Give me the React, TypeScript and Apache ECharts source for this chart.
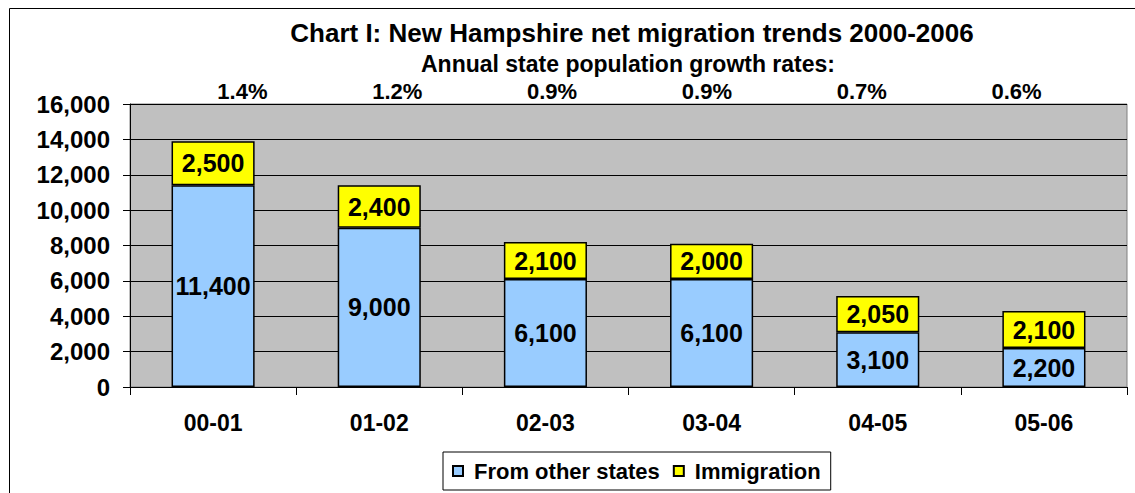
import React, { useEffect, useRef } from 'react';
import * as echarts from 'echarts';

const categories = ['00-01', '01-02', '02-03', '03-04', '04-05', '05-06'];
const fromOtherStates = [11400, 9000, 6100, 6100, 3100, 2200];
const immigration = [2500, 2400, 2100, 2000, 2050, 2100];
const growthRates = ['1.4%', '1.2%', '0.9%', '0.9%', '0.7%', '0.6%'];
const seriesNames = ['From other states', 'Immigration'];
const titleText = 'Chart I: New Hampshire net migration trends 2000-2006';
const subtitleText = 'Annual state population growth rates:';
const yMin = 0;
const yMax = 16000;
const yStep = 2000;

const FONT = '"Liberation Sans", Arial, Helvetica, sans-serif';
const fmt = (v: number) => v.toLocaleString('en-US');

export default function App() {
  const ref = useRef<HTMLDivElement>(null);
  useEffect(() => {
    if (!ref.current) return;
    const chart = echarts.init(ref.current, null, { renderer: 'svg' });
    const barLabel = {
      show: true,
      position: 'inside',
      color: '#000',
      fontSize: 25,
      fontWeight: 'bold',
      fontFamily: FONT,
      formatter: (p: any) => fmt(p.value),
    };
    chart.setOption({
      animation: false,
      backgroundColor: '#fff',
      textStyle: { fontFamily: FONT, color: '#000' },
      graphic: [
        {
          type: 'rect',
          z: -10,
          shape: { x: 9.5, y: 8.5, width: 1130, height: 500 },
          style: { fill: 'none', stroke: '#000', lineWidth: 1 },
        },
        {
          type: 'text',
          x: 632,
          y: 33,
          style: {
            text: titleText,
            fontSize: 26,
            fontWeight: 'bold',
            fontFamily: FONT,
            fill: '#000',
            textAlign: 'center',
            textVerticalAlign: 'middle',
          },
        },
        {
          type: 'text',
          x: 628,
          y: 64,
          style: {
            text: subtitleText,
            fontSize: 23,
            fontWeight: 'bold',
            fontFamily: FONT,
            fill: '#000',
            textAlign: 'center',
            textVerticalAlign: 'middle',
          },
        },
      ],
      legend: {
        left: 443,
        top: 452,
        orient: 'horizontal',
        data: seriesNames,
        icon: 'rect',
        itemWidth: 10,
        itemHeight: 10,
        itemGap: 13,
        padding: [8, 10, 8, 9],
        borderColor: '#000',
        borderWidth: 1,
        backgroundColor: '#fff',
        textStyle: {
          fontSize: 22,
          fontWeight: 'bold',
          fontFamily: FONT,
          color: '#000',
          padding: [0, 0, 0, 6],
        },
      },
      grid: [
        {
          left: 130,
          top: 104,
          width: 997,
          height: 283,
          show: true,
          backgroundColor: '#C0C0C0',
          borderColor: '#808080',
          borderWidth: 1,
        },
        { left: 165, top: 104, width: 929, height: 283, show: false },
      ],
      xAxis: [
        {
          type: 'category',
          gridIndex: 0,
          data: categories,
          boundaryGap: true,
          axisLine: { show: true, lineStyle: { color: '#000', width: 1 } },
          axisTick: { show: true, length: 8, lineStyle: { color: '#000' } },
          axisLabel: {
            fontSize: 23,
            fontWeight: 'bold',
            color: '#000',
            margin: 24,
            fontFamily: FONT,
          },
          splitLine: { show: false },
        },
        {
          type: 'category',
          gridIndex: 1,
          position: 'top',
          data: growthRates,
          axisLine: { show: false },
          axisTick: { show: false },
          axisLabel: {
            fontSize: 22,
            fontWeight: 'bold',
            color: '#000',
            margin: 2,
            fontFamily: FONT,
          },
        },
      ],
      yAxis: [
        {
          type: 'value',
          gridIndex: 0,
          min: yMin,
          max: yMax,
          interval: yStep,
          axisLine: { show: true, lineStyle: { color: '#000', width: 1 } },
          axisTick: { show: true, length: 7, lineStyle: { color: '#000' } },
          axisLabel: {
            fontSize: 24,
            fontWeight: 'bold',
            color: '#000',
            margin: 20,
            fontFamily: FONT,
            formatter: (v: number) => fmt(v),
          },
          splitLine: { show: true, lineStyle: { color: '#000', width: 1 } },
        },
        { type: 'value', gridIndex: 1, show: false, min: yMin, max: yMax },
      ],
      series: [
        {
          name: seriesNames[0],
          type: 'bar',
          stack: 'total',
          xAxisIndex: 0,
          yAxisIndex: 0,
          barWidth: '50%',
          data: fromOtherStates,
          itemStyle: { color: '#99CCFF', borderColor: '#000', borderWidth: 1.5 },
          label: barLabel,
        },
        {
          name: seriesNames[1],
          type: 'bar',
          stack: 'total',
          xAxisIndex: 0,
          yAxisIndex: 0,
          barWidth: '50%',
          data: immigration,
          itemStyle: { color: '#FFFF00', borderColor: '#000', borderWidth: 1.5 },
          label: barLabel,
        },
      ],
    });
    return () => chart.dispose();
  }, []);
  return (
    <div
      ref={ref}
      style={{ position: 'absolute', left: 0, top: 0, width: 1135, height: 493 }}
    />
  );
}
